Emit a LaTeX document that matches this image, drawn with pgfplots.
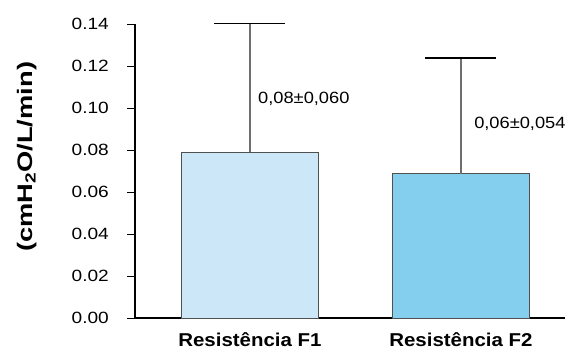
\documentclass[border=0pt]{standalone}
\usepackage{fontspec}
\setmainfont{Liberation Sans}
\newfontfamily\tickfont[FakeStretch=1.17]{Liberation Sans}
\newfontfamily\annfont[FakeStretch=1.12]{Liberation Sans}
\newfontfamily\labfont[FakeStretch=1.1]{Liberation Sans}
\newfontfamily\ylabfont[FakeStretch=1.3]{Liberation Sans}
\usepackage{pgfplots}
\pgfplotsset{compat=1.18}
\definecolor{barA}{RGB}{204,232,248}
\definecolor{barB}{RGB}{132,206,238}
\definecolor{edge}{RGB}{80,80,80}
\definecolor{errc}{RGB}{110,110,110}
\begin{document}
\begin{tikzpicture}
\begin{axis}[
  at={(135pt,31pt)}, anchor=south west,
  scale only axis, width=430pt, height=294pt,
  xmin=0.455, xmax=2.493, ymin=0, ymax=0.14,
  axis x line*=bottom, axis y line*=left,
  axis line style={line width=1.3pt, black, -},
  ybar, bar width=0.645, bar shift=0pt,
  xtick={1,2}, xticklabels={Resistência F1, Resistência F2},
  xtick style={draw=none},
  xticklabel style={font=\labfont\bfseries\fontsize{18.6}{20}\selectfont, inner sep=0pt, anchor=north, yshift=-6pt},
  ytick={0,0.02,0.04,0.06,0.08,0.10,0.12,0.14},
  yticklabel style={/pgf/number format/.cd, fixed, fixed zerofill, precision=2, assume math mode=true, /tikz/.cd, font=\tickfont\fontsize{16.3}{18}\selectfont, anchor=east, inner sep=0pt, xshift=-18pt},
  tick align=outside, major tick length=8pt,
  ytick style={line width=1pt, black},
  clip=false,
  ylabel={(cmH\textsubscript{2}O/L/min)},
  ylabel style={font=\ylabfont\bfseries\fontsize{21}{24}\selectfont, at={(axis description cs:-0.251,0.548)}, anchor=center},
]
\addplot[fill=barA, draw=edge, line width=0.9pt,
  error bars/.cd, y dir=plus, y explicit,
  error bar style={errc, line width=1.3pt},
  error mark options={rotate=90, black, line width=1.2pt, mark size=35.5pt}]
  coordinates {(1,0.079) +- (0,0.0613)};
\addplot[fill=barB, draw=edge, line width=0.9pt,
  error bars/.cd, y dir=plus, y explicit,
  error bar style={errc, line width=1.3pt},
  error mark options={rotate=90, black, line width=1.2pt, mark size=35.5pt}]
  coordinates {(2,0.0686) +- (0,0.0552)};
\node[anchor=west, font=\annfont\fontsize{16.3}{18}\selectfont, inner sep=0pt] at (axis cs:1.038,0.1043) {0,08±0,060};
\node[anchor=west, font=\annfont\fontsize{16.3}{18}\selectfont, inner sep=0pt] at (axis cs:2.062,0.0924) {0,06±0,054};
\end{axis}
\pgfresetboundingbox
\useasboundingbox (0,0) rectangle (565pt,349pt);
\end{tikzpicture}
\end{document}
